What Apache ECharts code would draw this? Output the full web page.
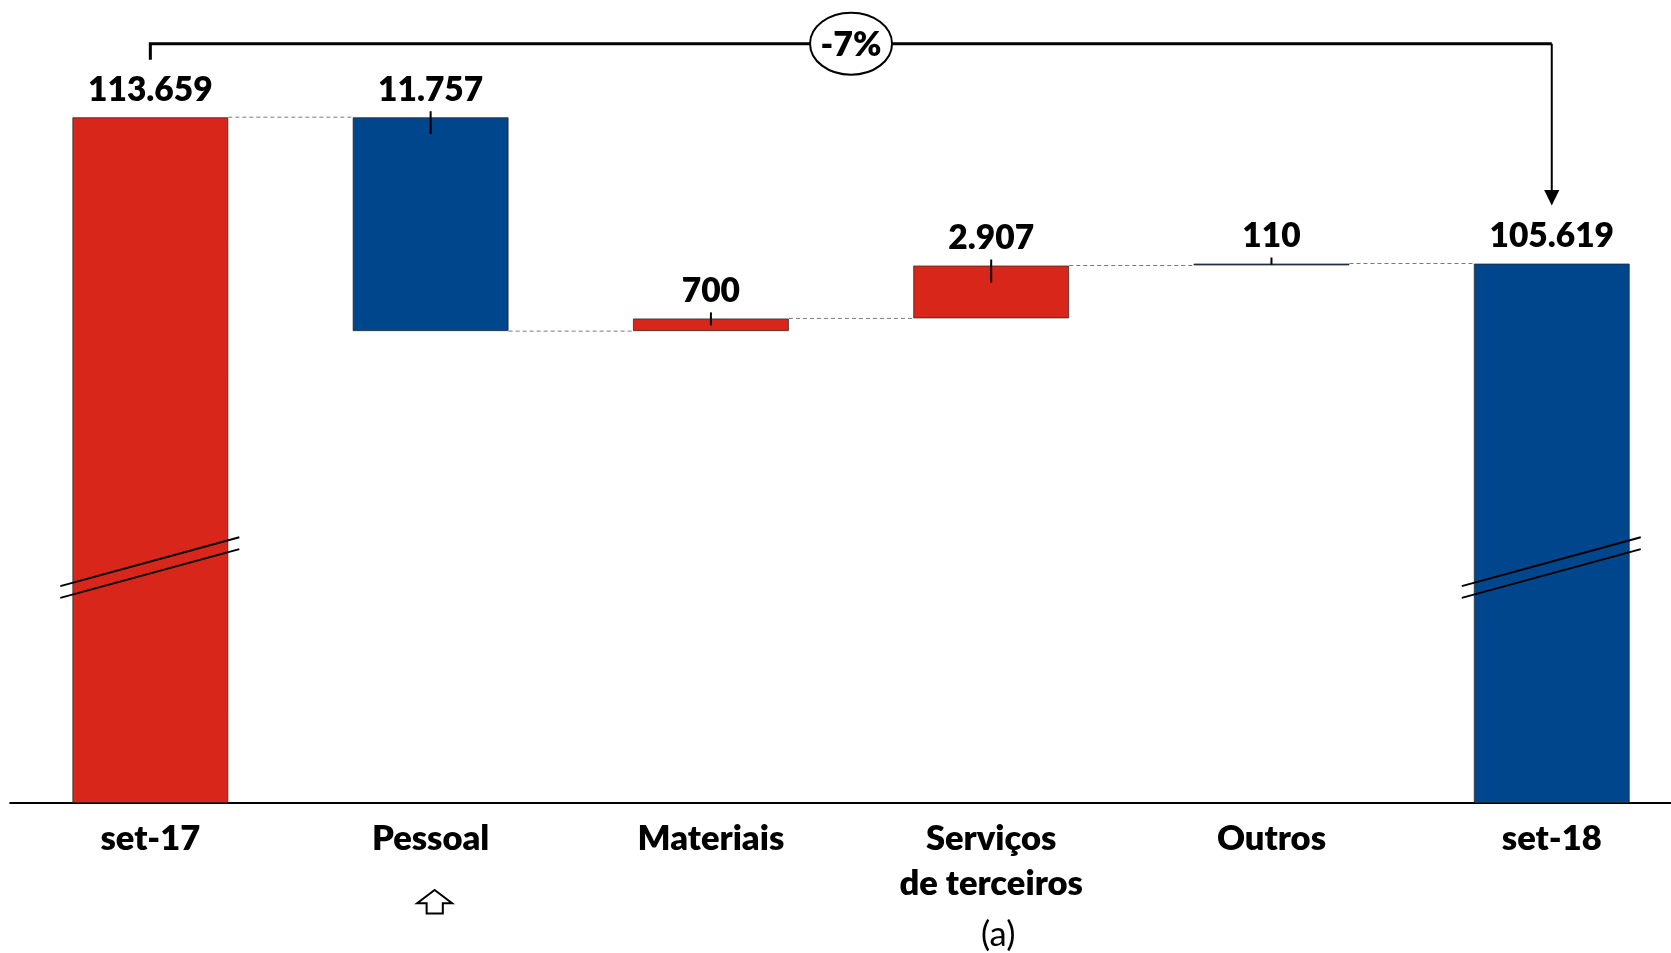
<!DOCTYPE html>
<html><head><meta charset="utf-8">
<script src="https://cdn.jsdelivr.net/npm/echarts@6/dist/echarts.min.js"></script>
<style>html,body{margin:0;padding:0;background:#fff}#c{width:1671px;height:953px}</style>
</head><body><div id="c"></div>
<script>
// ---- data ----
const categories = ['set-17', 'Pessoal', 'Materiais', 'Serviços\nde terceiros', 'Outros', 'set-18'];
const startValue = 113659;
const deltas = [-11757, 700, 2907, 110];
const endValue = 105619;
const barColors = ['#D9261A', '#00468C', '#D9261A', '#D9261A', '#00468C', '#00468C'];
const yMin = 76000, yMax = 118000;

// ---- derived waterfall arrays ----
const base = [0], shown = [startValue], tops = [startValue], levels = [startValue];
let run = startValue;
deltas.forEach(d => {
  const nr = run + d;
  base.push(Math.min(run, nr));
  shown.push(Math.abs(d));
  tops.push(Math.max(run, nr));
  run = nr;
  levels.push(run);
});
base.push(0); shown.push(endValue); tops.push(endValue);
const fmt = v => String(Math.abs(v)).replace(/\B(?=(\d{3})+(?!\d))/g, '.');
const pct = Math.round((endValue / startValue - 1) * 100) + '%';

const FONT = 'Lato';
const W = 800;
const BAR_W = 156, HALF = BAR_W / 2;
const LBL = 33.5, CAT = 34.5;

const chart = echarts.init(document.getElementById('c'), null, {renderer: 'canvas'});

const connectorData = levels.map((lv, i) => [i, lv, i + 1]);
const tickData = deltas.map((d, i) => [i + 1, tops[i + 1], base[i + 1]]);
const breakData = [[0], [categories.length - 1]];

chart.setOption({
  animation: false,
  backgroundColor: '#fff',
  grid: {left: 10.2, width: 1681.7, top: 38.2, height: 764.3, containLabel: false, outerBoundsMode: 'none'},
  xAxis: {
    type: 'category', data: categories,
    axisLine: {lineStyle: {color: '#000', width: 2}},
    axisTick: {show: false},
    axisLabel: {
      interval: 0, margin: 13.7, color: '#000',
      fontFamily: FONT, fontWeight: W, fontSize: CAT, lineHeight: 45,
      formatter: function (v) {
        if (v.indexOf('\n') >= 0) {
          return v.split('\n').map(s => '{b|' + s + '}').join('\n') + '\n{n|(a)}';
        }
        return '{b|' + v + '}';
      },
      rich: {
        b: {fontFamily: FONT, fontWeight: W, fontSize: CAT, lineHeight: 45, color: '#000'},
        n: {fontFamily: FONT, fontWeight: 'normal', fontSize: CAT, lineHeight: 57, color: '#000', padding: [0, 0, 0, 14]}
      }
    }
  },
  yAxis: {type: 'value', min: yMin, max: yMax, show: false, splitLine: {show: false}},
  series: [
    {
      type: 'bar', stack: 'w', barWidth: BAR_W, silent: true,
      itemStyle: {color: 'transparent', borderColor: 'transparent'},
      data: base
    },
    {
      type: 'bar', stack: 'w', barWidth: BAR_W, barMinHeight: 2,
      data: shown.map((v, i) => ({value: v, itemStyle: {color: barColors[i]}})),
      itemStyle: {borderColor: 'rgba(40,40,40,0.75)', borderWidth: 1},
      label: {
        show: true, position: 'top', distance: 10, color: '#000',
        fontFamily: FONT, fontWeight: W, fontSize: LBL,
        formatter: p => fmt(p.value)
      }
    },
    {
      // dashed connectors between bars
      type: 'custom', z: 3, silent: true,
      data: connectorData,
      renderItem: function (params, api) {
        const p1 = api.coord([api.value(0), api.value(1)]);
        const p2 = api.coord([api.value(2), api.value(1)]);
        return {
          type: 'line',
          shape: {x1: p1[0] + HALF, y1: p1[1], x2: p2[0] - HALF, y2: p2[1]},
          style: {stroke: '#7a7a7a', lineWidth: 1, lineDash: [4, 3]}
        };
      }
    },
    {
      // small error-bar ticks on variation bars
      type: 'custom', z: 5, silent: true,
      data: tickData,
      renderItem: function (params, api) {
        const t = api.coord([api.value(0), api.value(1)]);
        const b = api.coord([api.value(0), api.value(2)]);
        const h = b[1] - t[1];
        return {
          type: 'line',
          shape: {x1: t[0], y1: t[1] - 6, x2: t[0], y2: t[1] + Math.min(17, h * 0.55)},
          style: {stroke: '#000', lineWidth: 2}
        };
      }
    },
    {
      // axis-break marks on the total bars
      type: 'custom', z: 6, silent: true,
      data: breakData,
      renderItem: function (params, api) {
        const p = api.coord([api.value(0), yMin]);
        const cx = p[0], by = p[1];
        const mk = (yc) => ({
          type: 'line',
          shape: {x1: cx - 90, y1: yc + 24.4, x2: cx + 89, y2: yc - 24.4},
          style: {stroke: '#000', lineWidth: 2}
        });
        return {type: 'group', children: [mk(by - 240.8), mk(by - 229)]};
      }
    },
    {
      // bracket with percentage and arrow, and the up-arrow icon under Pessoal
      type: 'custom', z: 7, silent: true,
      data: [[0]],
      renderItem: function (params, api) {
        const last = categories.length - 1;
        const a = api.coord([0, startValue]);
        const b = api.coord([last, endValue]);
        const axisY = api.coord([0, yMin])[1];
        const yb = a[1] - 73.5;
        const mid = (a[0] + b[0]) / 2;
        const tipY = b[1] - 58;
        const pe = api.coord([1, yMin]);
        const ax = pe[0] + 4, ay = axisY + 87.5;
        return {
          type: 'group',
          children: [
            {type: 'polyline', shape: {points: [[a[0], a[1] - 57.5], [a[0], yb], [b[0], yb]]},
             style: {stroke: '#000', lineWidth: 3, fill: null}},
            {type: 'line', shape: {x1: b[0], y1: yb, x2: b[0], y2: tipY - 10},
             style: {stroke: '#000', lineWidth: 2}},
            {type: 'polygon', shape: {points: [[b[0] - 7.6, tipY - 15.5], [b[0] + 7.6, tipY - 15.5], [b[0], tipY]]},
             style: {fill: '#000'}},
            {type: 'ellipse', shape: {cx: mid, cy: yb, rx: 41, ry: 31},
             style: {fill: '#fff', stroke: '#000', lineWidth: 2}},
            {type: 'text', x: mid, y: yb + 1,
             style: {text: pct, fill: '#000', font: W + ' 34px ' + FONT, align: 'center', verticalAlign: 'middle'}},
            {type: 'polygon', shape: {points: [
              [ax, ay], [ax + 17.5, ay + 13.3], [ax + 8.2, ay + 13.3], [ax + 8.2, ay + 23.5],
              [ax - 8, ay + 23.5], [ax - 8, ay + 13.3], [ax - 17.5, ay + 13.3]]},
             style: {fill: '#fff', stroke: '#000', lineWidth: 2}}
          ]
        };
      }
    }
  ]
});
</script></body></html>
